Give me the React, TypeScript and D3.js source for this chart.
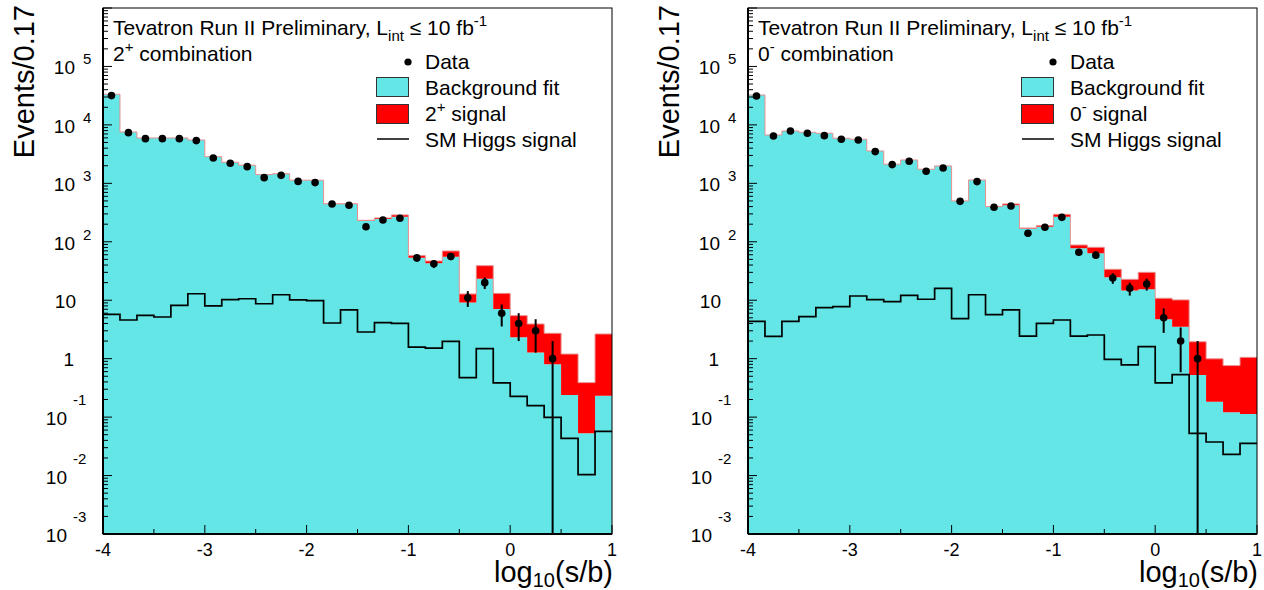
import * as d3 from "d3";

// bins in log10(s/b)
const binLo = -4;
const binHi = 1;
const nBins = 30;

// 2+ combination (left)
const leftBkg = [33400, 7570, 5970, 5970, 5970, 5520, 2860, 2290, 2040, 1410, 1450, 1130, 1130, 444, 444, 230, 246, 269, 53.5, 42.8, 55.7, 9.1, 23.4, 7.1, 2.32, 1.28, 0.8, 0.239, 0.053, 0.233];
const leftSig = [40, 8, 5, 5, 5, 5, 3, 3, 3, 2.5, 2.5, 2, 2, 1.5, 1.5, 3, 10, 19, 4.5, 4.1, 13.9, 3.7, 15.6, 6.0, 3.13, 2.64, 1.92, 0.96, 0.336, 2.41];
const leftData = [31700, 7370, 5820, 5820, 5820, 5380, 2720, 2200, 1930, 1250, 1370, 1080, 1030, 444, 421, 181, 236, 252, 53, 42, 56, 11, 20, 6, 4, 3, 1, 0, 0, 0];
const leftSM = [5.74, 4.59, 5.52, 5.16, 8.18, 12.9, 7.98, 10.2, 10.6, 8.71, 12.4, 10.1, 9.82, 4.08, 6.81, 2.86, 4.13, 4.03, 1.58, 1.52, 1.98, 0.473, 1.48, 0.384, 0.227, 0.157, 0.0993, 0.0434, 0.0104, 0.0571];

// 0- combination (right)
const rightBkg = [32500, 6720, 7870, 7470, 7180, 5900, 5670, 3580, 2120, 2510, 1740, 1980, 499, 1140, 399, 421, 168, 181, 269, 77.3, 63.5, 24.7, 14.6, 15.4, 4.71, 3.53, 0.526, 0.184, 0.121, 0.113];
const rightSig = [40, 8, 8, 8, 8, 6, 6, 4, 3, 3, 2.5, 2.5, 1, 2, 1, 23, 4, 8, 26, 10.7, 16.9, 9.1, 8.2, 14.6, 6.1, 6.6, 1.42, 0.81, 0.64, 0.94];
const rightData = [31300, 6460, 7870, 7180, 6550, 5670, 5520, 3490, 2090, 2380, 1610, 1830, 492, 1070, 389, 410, 140, 177, 262, 66, 59, 24, 16, 19, 5, 2, 1, 0, 0, 0];
const rightSM = [4.36, 2.41, 4.36, 5.24, 7.46, 7.76, 11.8, 10.2, 9.46, 12.1, 10.4, 16.0, 4.84, 12.4, 5.66, 6.81, 2.44, 4.03, 4.59, 2.44, 2.54, 0.975, 0.78, 1.61, 0.384, 0.532, 0.0528, 0.0375, 0.0231, 0.0356];

const yExps = [5, 4, 3, 2, 1, 0, -1, -2, -3];
const xTickVals = [-4, -3, -2, -1, 0, 1];

const W = 1264;
const H = 590;
const plotL = 103;
const plotR = 612;
const plotT = 8;
const plotB = 534;
const FONT = "Liberation Sans, Arial, Helvetica, sans-serif";
const CYAN = "#64e6e6";

const x = d3.scaleLinear().domain([binLo, binHi]).range([plotL, plotR]);
const y = d3.scaleLog().domain([1e-3, 1e6]).range([plotB, plotT]).clamp(true);
const edges = d3.range(nBins + 1).map((i) => binLo + (i * (binHi - binLo)) / nBins);
const ext = (a: number[]) => [...a, a[a.length - 1]];

function Panel({ dx, bkg, sig, data, sm, tag }: any) {
  const tot = bkg.map((b: number, i: number) => b + sig[i]);
  const bk = ext(bkg);
  const tt = ext(tot);
  const s = ext(sm);

  const bkgArea = d3.area<number>().curve(d3.curveStepAfter)
    .x((d) => x(d)).y0(plotB).y1((_, i) => y(bk[i]))(edges);
  const sigArea = d3.area<number>().curve(d3.curveStepAfter)
    .x((d) => x(d)).y0((_, i) => y(bk[i])).y1((_, i) => y(tt[i]))(edges);
  const totLine = d3.line<number>().curve(d3.curveStepAfter)
    .x((d) => x(d)).y((_, i) => y(tt[i]))(edges);
  const smLine = d3.line<number>().curve(d3.curveStepAfter)
    .x((d) => x(d)).y((_, i) => y(s[i]))(edges);

  const minor = y.ticks().filter((v) => Math.abs(Math.log10(v) - Math.round(Math.log10(v))) > 1e-6);
  const xMinor = d3.range(-3.5, 1, 1);

  return (
    <g transform={`translate(${dx},0)`} fontFamily={FONT}>
      <path d={bkgArea!} fill={CYAN} />
      <path d={sigArea!} fill="#ff0000" />
      <path d={totLine!} fill="none" stroke="#e89090" strokeWidth={1} />
      <path d={smLine!} fill="none" stroke="#000" strokeWidth={1.7} />
      {data.map((n: number, i: number) => {
        if (n <= 0) return null;
        const cx = x((edges[i] + edges[i + 1]) / 2);
        const e = Math.sqrt(n);
        return (
          <g key={i}>
            <line x1={cx} x2={cx} y1={y(n + e)} y2={y(Math.max(n - e, 1e-3))} stroke="#000" strokeWidth={2} />
            <circle cx={cx} cy={y(n)} r={3.8} fill="#000" />
          </g>
        );
      })}

      {/* frame */}
      <rect x={plotL} y={plotT} width={plotR - plotL} height={plotB - plotT} fill="none" stroke="#000" strokeWidth={1} />
      <line x1={plotL} x2={plotL} y1={plotT} y2={plotB} stroke="#000" strokeWidth={2} />
      <line x1={plotL} x2={plotR} y1={plotB} y2={plotB} stroke="#000" strokeWidth={2} />

      {/* y ticks */}
      {yExps.concat([6]).map((p) => (
        <line key={"M" + p} x1={plotL} x2={plotL + 9} y1={y(Math.pow(10, p))} y2={y(Math.pow(10, p))} stroke="#000" strokeWidth={1} />
      ))}
      {minor.map((v, i) => (
        <line key={"m" + i} x1={plotL} x2={plotL + 5} y1={y(v)} y2={y(v)} stroke="#000" strokeWidth={1} />
      ))}
      {yExps.map((p) => {
        const ty = y(Math.pow(10, p));
        if (p === 0) return <text key={p} x={plotL - 29} y={ty + 7} fontSize={19} textAnchor="end">1</text>;
        if (p === 1) return <text key={p} x={plotL - 27} y={ty + 8} fontSize={19} textAnchor="end">10</text>;
        const neg = p < 0;
        return (
          <g key={p}>
            <text x={plotL - (neg ? 36 : 28)} y={ty + 8} fontSize={19} textAnchor="end">10</text>
            <text x={plotL - (neg ? 30 : 20)} y={ty + (neg ? -12 : -2)} fontSize={15}>{String(p)}</text>
          </g>
        );
      })}

      {/* x ticks */}
      {xTickVals.map((v) => (
        <g key={v}>
          <line x1={x(v)} x2={x(v)} y1={plotB} y2={plotB - 9} stroke="#000" strokeWidth={1} />
          <text x={x(v)} y={556} fontSize={18} textAnchor="middle">{String(v)}</text>
        </g>
      ))}
      {xMinor.map((v) => (
        <line key={v} x1={x(v)} x2={x(v)} y1={plotB} y2={plotB - 5} stroke="#000" strokeWidth={1} />
      ))}

      {/* axis titles */}
      <text transform="translate(34,5) rotate(-90)" fontSize={29} textAnchor="end">Events/0.17</text>
      <text x={613} y={582} fontSize={29} textAnchor="end">
        log<tspan fontSize={20} dy={5}>10</tspan><tspan dy={-5}>(s/b)</tspan>
      </text>

      {/* header */}
      <text x={113} y={35} fontSize={21}>
        Tevatron Run II Preliminary, L<tspan fontSize={15} dy={6}>int</tspan>
        <tspan dy={-6}> ≤ 10 fb</tspan><tspan fontSize={15} dy={-9}>-1</tspan>
      </text>
      <text x={113} y={61} fontSize={21}>
        {tag.base}<tspan fontSize={15} dy={-9}>{tag.sup}</tspan><tspan dy={9}> combination</tspan>
      </text>

      {/* legend */}
      <circle cx={408} cy={62} r={3.6} fill="#000" />
      <text x={425} y={69} fontSize={21}>Data</text>
      <rect x={376.5} y={77.5} width={32} height={19} fill={CYAN} stroke="#333" strokeWidth={1} />
      <text x={425} y={95} fontSize={21}>Background fit</text>
      <rect x={376.5} y={104.5} width={32} height={19} fill="#ff0000" stroke="#333" strokeWidth={1} />
      <text x={425} y={121} fontSize={21}>
        {tag.base}<tspan fontSize={15} dy={-9}>{tag.sup}</tspan><tspan dy={9}> signal</tspan>
      </text>
      <line x1={377} x2={409} y1={139} y2={139} stroke="#000" strokeWidth={1.5} />
      <text x={425} y={147} fontSize={21}>SM Higgs signal</text>
    </g>
  );
}

export default function App() {
  return (
    <svg width={W} height={H} style={{ position: "absolute", left: 0, top: 0, background: "#fff" }}>
      <rect width={W} height={H} fill="#fff" />
      <Panel dx={0} bkg={leftBkg} sig={leftSig} data={leftData} sm={leftSM} tag={{ base: "2", sup: "+" }} />
      <Panel dx={645} bkg={rightBkg} sig={rightSig} data={rightData} sm={rightSM} tag={{ base: "0", sup: "-" }} />
    </svg>
  );
}
